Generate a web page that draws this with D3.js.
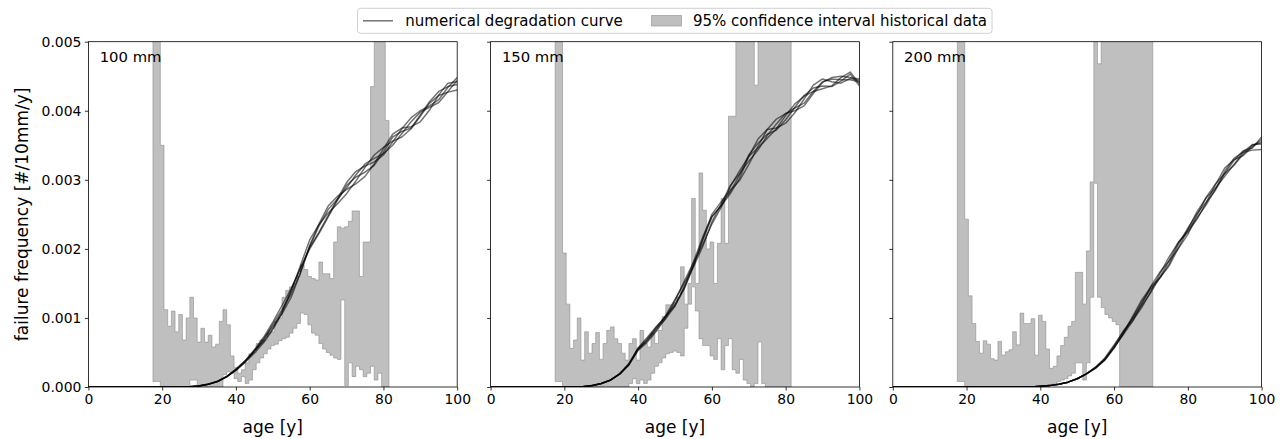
<!DOCTYPE html>
<html>
<head>
<meta charset="utf-8">
<script src="https://cdn.jsdelivr.net/npm/d3@7"></script>
<style>
  body { margin: 0; background: #fff; }
  svg { display: block; }
  text { font-family: "DejaVu Sans", sans-serif; fill: #000; }
</style>
</head>
<body>
<svg id="chart" width="1287" height="439"></svg>
<script>
// All failure-frequency values below are in units of 1e-3 failures per 10 mm per year.

// Age (years) at which the simulated degradation curves are sampled
const curveAges = [0, 2.5, 5, 7.5, 10, 12.5, 15, 17.5, 20, 22.5, 25, 27.5, 30, 32.5, 35, 37.5, 40,
  42.5, 45, 47.5, 50, 52.5, 55, 57.5, 60, 62.5, 65, 67.5, 70, 72.5, 75, 77.5, 80, 82.5, 85, 87.5,
  90, 92.5, 95, 97.5, 100];

// ---- 100 mm pipes: historical 95% confidence band, one value per age year (18..81)
const firstAge100 = 18;
const upper100 = [9, 9, 3.5, 1.12, 0.88, 1.1, 0.8, 1.05, 0.68, 1.0, 1.3, 1.0, 0.65, 0.85, 0.65, 0.75,
  0.58, 0.62, 0.95, 1.12, 0.9, 0.45, 0.28, 0.2, 0.25, 0.35, 0.48, 0.5, 0.63, 0.68, 0.68, 0.78, 0.8,
  0.95, 1.0, 1.3, 1.4, 1.45, 1.5, 1.6, 1.77, 1.7, 1.6, 1.57, 1.55, 1.81, 1.64, 1.64, 1.57, 2.1, 2.32,
  2.3, 2.32, 2.4, 2.55, 2.55, 1.6, 2.1, 2.1, 4.35, 9, 9, 9, 3.86];
const lower100 = [0.08, 0.08, 0, 0, 0, 0, 0, 0, 0, 0, 0.1, 0.1, 0, 0, 0, 0, 0, 0, 0, 0.18, 0.22, 0.2,
  0.12, 0.08, 0.15, 0.05, 0.1, 0.25, 0.35, 0.42, 0.48, 0.55, 0.6, 0.62, 0.67, 0.7, 0.72, 0.78, 0.85,
  0.92, 1.07, 1.05, 0.9, 0.78, 0.75, 0.63, 0.55, 0.5, 0.46, 0.42, 0.4, 1.26, 0.02, 0.35, 0.15, 0.3,
  0.25, 0.15, 0.2, 0.3, 0.1, 0.2, 0, 0];
// ---- 100 mm pipes: five simulated degradation curves
const curves100 = [
  [0,0,0,0,0,0,0,0,0,0,0, 0.005,0.015,0.04,0.08,0.15,0.26,0.38,
   0.54,0.72,0.94,1.18,1.43,1.72,2.02,2.24,2.48,2.72,2.96,3.12,3.2,3.26,3.36,3.55,3.74,3.9,4.0,4.07,4.16,4.34,4.48],
  [0,0,0,0,0,0,0,0,0,0,0, 0.004,0.014,0.038,0.078,0.148,0.24,0.36,
   0.49,0.64,0.83,1.07,1.39,1.76,2.13,2.35,2.52,2.65,2.8,2.98,3.18,3.36,3.47,3.56,3.62,3.74,3.92,4.11,4.22,4.27,4.3],
  [0,0,0,0,0,0,0,0,0,0,0, 0.005,0.016,0.042,0.082,0.152,0.25,0.37,
   0.52,0.7,0.88,1.06,1.3,1.65,2.05,2.36,2.62,2.76,2.86,2.94,3.05,3.23,3.45,3.66,3.75,3.77,3.84,4.01,4.23,4.4,4.42],
  [0,0,0,0,0,0,0,0,0,0,0, 0.005,0.015,0.039,0.079,0.149,0.245,0.36,
   0.53,0.66,0.85,1.1,1.41,1.72,2.0,2.22,2.46,2.7,2.92,3.04,3.11,3.21,3.4,3.62,3.7,3.75,3.94,4.13,4.28,4.35,4.38],
  [0,0,0,0,0,0,0,0,0,0,0, 0.006,0.017,0.041,0.081,0.151,0.255,0.38,
   0.51,0.68,0.91,1.12,1.35,1.66,2.03,2.33,2.57,2.72,2.88,3.07,3.23,3.31,3.38,3.5,3.67,3.84,3.98,4.05,4.12,4.28,4.44]
];

// ---- 150 mm pipes: historical 95% confidence band (ages 18..81)
const firstAge150 = 18;
const upper150 = [9, 9, 1.94, 1.2, 0.56, 0.68, 1.0, 0.39, 0.8, 0.49, 0.63, 0.79, 0.4, 0.63, 0.82, 0.87,
  0.7, 0.63, 0.49, 0.39, 0.63, 0.7, 0.39, 0.82, 0.63, 0.58, 0.78, 0.63, 0.82, 1.02, 1.19, 1.19, 1.22,
  1.3, 1.74, 1.2, 1.5, 2.73, 1.5, 3.1, 2.56, 2.0, 2.1, 1.5, 2.08, 2.73, 2.08, 3.92, 3.92, 9, 9, 9, 9,
  9, 4.37, 9, 9, 9, 9, 9, 9, 9, 9, 9];
const lower150 = [0.08, 0.08, 0, 0, 0, 0, 0, 0, 0, 0, 0, 0, 0, 0, 0, 0, 0, 0, 0, 0, 0.05, 0.12, 0.05,
  0.1, 0.05, 0.1, 0.2, 0.3, 0.35, 0.42, 0.48, 0.5, 0.52, 0.5, 0.45, 0.85, 1.2, 1.45, 1.1, 0.7, 0.6,
  0.6, 0.45, 0.4, 0.7, 0.25, 0.6, 0.7, 0.25, 0.2, 0.4, 0.1, 0.05, 0, 0.05, 0.65, 0.05, 0, 0, 0, 0, 0,
  0, 0];
// ---- 150 mm pipes: five simulated degradation curves
const curves150 = [
  [0,0,0,0,0,0,0,0,0,0, 0.005,0.02,0.05,0.1,0.19,0.33,
   0.57,0.72,0.88,1.02,1.18,1.42,1.76,2.14,2.5,2.68,2.85,2.99,3.22,3.48,3.73,3.88,3.96,4.0,4.07,4.25,4.41,4.48,4.5,4.48,4.46],
  [0,0,0,0,0,0,0,0,0,0, 0.005,0.018,0.048,0.098,0.185,0.32,
   0.53,0.65,0.81,1.0,1.25,1.53,1.8,2.06,2.36,2.6,2.9,3.13,3.34,3.46,3.6,3.74,3.93,4.1,4.21,4.28,4.32,4.36,4.48,4.56,4.39],
  [0,0,0,0,0,0,0,0,0,0, 0.006,0.022,0.052,0.102,0.19,0.34,
   0.55,0.7,0.85,0.99,1.17,1.45,1.81,2.17,2.47,2.62,2.8,3.02,3.34,3.59,3.73,3.75,3.82,3.97,4.17,4.37,4.46,4.42,4.4,4.47,4.44],
  [0,0,0,0,0,0,0,0,0,0, 0.005,0.02,0.05,0.1,0.19,0.32,
   0.56,0.67,0.83,1.04,1.27,1.5,1.74,2.03,2.39,2.65,2.92,3.09,3.27,3.43,3.64,3.81,3.96,4.04,4.11,4.28,4.42,4.46,4.45,4.45,4.42],
  [0,0,0,0,0,0,0,0,0,0, 0.005,0.021,0.05,0.1,0.19,0.33,
   0.54,0.68,0.87,1.03,1.2,1.43,1.75,2.12,2.46,2.63,2.83,3.07,3.36,3.53,3.66,3.72,3.87,4.05,4.22,4.33,4.36,4.35,4.43,4.53,4.36]
];

// ---- 200 mm pipes: historical 95% confidence band (ages 18..70)
const firstAge200 = 18;
const upper200 = [9, 9, 2.43, 1.32, 0.92, 0.66, 0.49, 0.67, 0.62, 0.41, 0.39, 0.66, 0.46, 0.51, 0.54,
  0.8, 0.61, 1.07, 0.92, 0.92, 0.99, 0.46, 1.04, 0.95, 0.55, 0.27, 0.3, 0.45, 0.6, 0.72, 0.88, 0.95,
  1.66, 1.66, 1.2, 1.97, 2.97, 9, 4.68, 9, 9, 9, 9, 9, 9, 9, 9, 9, 9, 9, 9, 9, 9];
const lower200 = [0.08, 0.08, 0, 0, 0, 0, 0, 0, 0, 0, 0, 0, 0, 0, 0, 0, 0, 0, 0, 0, 0, 0, 0, 0, 0, 0.03,
  0.05, 0.08, 0.1, 0.12, 0.16, 0.2, 0.35, 0.35, 0.1, 0.35, 1.3, 2.95, 1.3, 1.15, 1.05, 1.0, 0.95, 0.9,
  0, 0, 0, 0, 0, 0, 0, 0, 0];
// ---- 200 mm pipes: five simulated degradation curves
const curves200 = [
  [0,0,0,0,0,0,0,0,0,0,0,0,0,0,0,0,
   0.01,0.02,0.04,0.07,0.12,0.19,0.29,0.42,0.61,0.8,0.96,1.15,1.39,1.65,1.89,2.1,2.24,2.43,2.67,2.93,3.17,3.29,3.35,3.48,3.58],
  [0,0,0,0,0,0,0,0,0,0,0,0,0,0,0,0,
   0.01,0.02,0.04,0.07,0.12,0.19,0.27,0.39,0.56,0.78,1.02,1.26,1.45,1.59,1.76,2.02,2.28,2.54,2.74,2.88,3.05,3.22,3.4,3.51,3.52],
  [0,0,0,0,0,0,0,0,0,0,0,0,0,0,0,0,
   0.01,0.02,0.04,0.07,0.12,0.19,0.28,0.41,0.59,0.81,0.99,1.18,1.37,1.6,1.84,2.1,2.27,2.45,2.64,2.87,3.12,3.31,3.4,3.43,3.44],
  [0,0,0,0,0,0,0,0,0,0,0,0,0,0,0,0,
   0.01,0.02,0.04,0.07,0.12,0.19,0.28,0.39,0.58,0.76,0.95,1.2,1.46,1.67,1.83,2.01,2.21,2.49,2.75,2.94,3.09,3.21,3.37,3.5,3.54],
  [0,0,0,0,0,0,0,0,0,0,0,0,0,0,0,0,
   0.01,0.02,0.04,0.07,0.12,0.19,0.28,0.4,0.57,0.77,1.0,1.23,1.42,1.58,1.79,2.07,2.3,2.51,2.68,2.85,3.09,3.28,3.42,3.46,3.62]
];

const panelLabels = ["100 mm", "150 mm", "200 mm"];
const xTicks = [0, 20, 40, 60, 80, 100];
const yTicks = [0, 0.001, 0.002, 0.003, 0.004, 0.005];
const legendLabels = ["numerical degradation curve", "95% confidence interval historical data"];

const panels = [
  { label: panelLabels[0], first: firstAge100, upper: upper100, lower: lower100, curves: curves100 },
  { label: panelLabels[1], first: firstAge150, upper: upper150, lower: lower150, curves: curves150 },
  { label: panelLabels[2], first: firstAge200, upper: upper200, lower: lower200, curves: curves200 }
];

const unit = 1e-3;
const plotTop = 41.7, plotBottom = 387;
const panelLeft = [88.4, 490.6, 892.8];
const panelWidth = 368.8;
const bandColor = "#808080";
const curveColor = "#000";
const curveOpacity = 0.55;

const svg = d3.select("#chart");
const y = d3.scaleLinear().domain([0, 0.005]).range([plotBottom, plotTop]);
const defs = svg.append("defs");

panels.forEach((p, i) => {
  const x = d3.scaleLinear().domain([0, 100]).range([panelLeft[i], panelLeft[i] + panelWidth]);
  const g = svg.append("g");
  const clipId = "plot-clip-" + i;
  defs.append("clipPath").attr("id", clipId)
    .append("rect")
    .attr("x", x(0)).attr("y", y(0.005))
    .attr("width", x(100) - x(0)).attr("height", y(0) - y(0.005));

  // confidence band drawn as mid-steps: each age value covers [age-0.5, age+0.5]
  const steps = [];
  p.upper.forEach((u, j) => {
    const age = p.first + j;
    const lo = p.lower[j] * unit, hi = u * unit;
    steps.push({ x: age - 0.5, lo, hi });
    steps.push({ x: age + 0.5, lo, hi });
  });
  const band = d3.area()
    .x(d => x(d.x))
    .y0(d => y(d.lo))
    .y1(d => y(d.hi));
  g.append("path")
    .attr("clip-path", `url(#${clipId})`)
    .attr("d", band(steps))
    .attr("fill", bandColor).attr("fill-opacity", 0.5)
    .attr("stroke", bandColor).attr("stroke-opacity", 0.5)
    .attr("stroke-width", 1).attr("stroke-linejoin", "miter");

  // simulated degradation curves
  const line = d3.line()
    .x((d, k) => x(curveAges[k]))
    .y(d => y(d * unit));
  p.curves.forEach(c => {
    g.append("path")
      .attr("clip-path", `url(#${clipId})`)
      .attr("d", line(c))
      .attr("fill", "none")
      .attr("stroke", curveColor).attr("stroke-opacity", curveOpacity)
      .attr("stroke-width", 1.5).attr("stroke-linejoin", "round");
  });

  // axes
  const xAxis = d3.axisBottom(x).tickValues(xTicks).tickSize(3.5).tickPadding(3.5).tickSizeOuter(0);
  const gx = g.append("g").attr("transform", `translate(0,${plotBottom})`).call(xAxis);
  const yAxis = d3.axisLeft(y).tickValues(yTicks).tickSize(3.5).tickPadding(3.5).tickSizeOuter(0)
    .tickFormat(i === 0 ? d3.format(".3f") : () => "");
  const gy = g.append("g").attr("transform", `translate(${x(0)},0)`).call(yAxis);
  [gx, gy].forEach(a => {
    a.select(".domain").remove();
    a.selectAll(".tick line").attr("stroke", "#000").attr("stroke-width", 0.8);
    a.selectAll(".tick text").attr("font-family", "DejaVu Sans, sans-serif")
      .attr("font-size", 13.9).attr("fill", "#000");
  });

  // frame
  g.append("rect")
    .attr("x", x(0)).attr("y", y(0.005))
    .attr("width", x(100) - x(0)).attr("height", y(0) - y(0.005))
    .attr("fill", "none").attr("stroke", "#000").attr("stroke-width", 0.8);

  // diameter label
  g.append("text")
    .attr("x", x(0) + 11.3).attr("y", 62.3)
    .attr("font-size", 14.8)
    .text(p.label);

  // x label
  g.append("text")
    .attr("x", (x(0) + x(100)) / 2).attr("y", 433)
    .attr("text-anchor", "middle")
    .attr("font-size", 17)
    .text("age [y]");
});

// y label
svg.append("text")
  .attr("transform", `translate(22,${(plotTop + plotBottom) / 2}) rotate(-90)`)
  .attr("text-anchor", "middle")
  .attr("dominant-baseline", "central")
  .attr("font-size", 17)
  .text("failure frequency [#/10mm/y]");

// legend
const legend = svg.append("g");
legend.append("rect")
  .attr("x", 357.5).attr("y", 8.3).attr("width", 634.5).attr("height", 25)
  .attr("rx", 3).attr("fill", "#fff").attr("fill-opacity", 0.8)
  .attr("stroke", "#d0d0d0").attr("stroke-width", 1);
legend.append("line")
  .attr("x1", 363).attr("x2", 393).attr("y1", 20.8).attr("y2", 20.8)
  .attr("stroke", curveColor).attr("stroke-opacity", curveOpacity).attr("stroke-width", 1.5);
legend.append("text")
  .attr("x", 405.3).attr("y", 20.8).attr("dominant-baseline", "central")
  .attr("font-size", 15).text(legendLabels[0]);
legend.append("rect")
  .attr("x", 651.5).attr("y", 15.5).attr("width", 30).attr("height", 10.5)
  .attr("fill", bandColor).attr("fill-opacity", 0.5)
  .attr("stroke", bandColor).attr("stroke-opacity", 0.5).attr("stroke-width", 1);
legend.append("text")
  .attr("x", 693).attr("y", 20.8).attr("dominant-baseline", "central")
  .attr("font-size", 15).text(legendLabels[1]);
</script>
</body>
</html>
